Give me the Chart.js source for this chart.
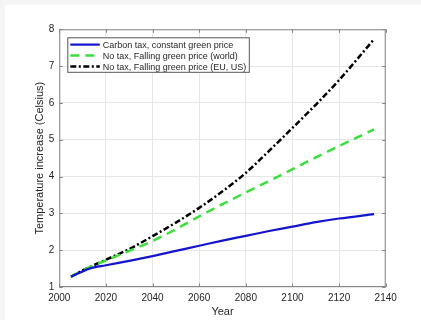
<!DOCTYPE html>
<html>
<head>
<meta charset="utf-8">
<script src="https://cdn.jsdelivr.net/npm/chart.js@4.4.1/dist/chart.umd.min.js"></script>
<style>
  html, body { margin: 0; padding: 0; background: #f5f5f5; }
  #wrap { position: absolute; left: 5px; top: 5px; width: 416px; height: 315px; background: #ffffff; }
  canvas { display: block; }
</style>
</head>
<body>
<div id="wrap"><canvas id="chart" width="416" height="315"></canvas></div>
<script>
// Simulated temperature paths (degrees Celsius above pre-industrial) by year
const carbonTaxYears = [2005, 2013, 2020, 2030, 2040, 2050, 2060, 2070, 2080, 2090, 2100, 2110, 2120, 2135];
const carbonTaxTemp  = [1.28, 1.50, 1.59, 1.71, 1.84, 1.98, 2.12, 2.26, 2.39, 2.52, 2.64, 2.76, 2.86, 2.98];

const worldYears = [2005, 2010, 2020, 2030, 2040, 2050, 2060, 2070, 2080, 2090, 2100, 2110, 2120, 2135];
const worldTemp  = [1.28, 1.45, 1.72, 1.98, 2.25, 2.57, 2.92, 3.25, 3.57, 3.88, 4.20, 4.52, 4.83, 5.28];

const euUsYears = [2005, 2010, 2020, 2030, 2040, 2050, 2060, 2070, 2080, 2090, 2100, 2110, 2120, 2135];
const euUsTemp  = [1.28, 1.45, 1.74, 2.03, 2.38, 2.75, 3.15, 3.60, 4.10, 4.70, 5.32, 5.95, 6.62, 7.73];

const seriesLabels = [
  'Carbon tax, constant green price',
  'No tax, Falling green price (world)',
  'No tax, Falling green price (EU, US)'
];

const xTickValues = [2000, 2020, 2040, 2060, 2080, 2100, 2120, 2140];
const yTickValues = [1, 2, 3, 4, 5, 6, 7, 8];

const toPoints = (xs, ys) => xs.map((x, i) => ({ x: x, y: ys[i] }));

const FONT = 'Liberation Sans, Arial, Helvetica, sans-serif';
const TEXT = '#262626';
const AXIS = '#858585';

// Inward tick marks on all four sides plus the boxed legend in the upper left
const framePlugin = {
  id: 'frame',
  afterDatasetsDraw(chart) {
    const { ctx, chartArea: a, scales } = chart;
    ctx.save();
    ctx.strokeStyle = AXIS;
    ctx.lineWidth = 1;
    ctx.strokeRect(a.left + 0.5, a.top + 0.5, a.right - a.left - 1, a.bottom - a.top - 1);
    const len = 3.5;
    ctx.beginPath();
    xTickValues.forEach(v => {
      const x = Math.round(scales.x.getPixelForValue(v)) + 0.5;
      ctx.moveTo(x, a.bottom); ctx.lineTo(x, a.bottom - len);
      ctx.moveTo(x, a.top); ctx.lineTo(x, a.top + len);
    });
    yTickValues.forEach(v => {
      const y = Math.round(scales.y.getPixelForValue(v)) + 0.5;
      ctx.moveTo(a.left, y); ctx.lineTo(a.left + len, y);
      ctx.moveTo(a.right, y); ctx.lineTo(a.right - len, y);
    });
    ctx.stroke();

    // legend box
    const bx = a.left + 8.5, by = a.top + 8.5, bw = 181.5, bh = 34.5;
    ctx.fillStyle = '#ffffff';
    ctx.fillRect(bx, by, bw, bh);
    ctx.strokeStyle = '#555555';
    ctx.strokeRect(bx, by, bw, bh);
    ctx.font = '9px ' + FONT;
    ctx.textBaseline = 'middle';
    ctx.textAlign = 'left';
    chart.data.datasets.forEach((ds, i) => {
      const y = by + 6.8 + i * 11;
      ctx.beginPath();
      ctx.strokeStyle = ds.borderColor;
      ctx.lineWidth = ds.borderWidth;
      ctx.setLineDash(ds.borderDash || []);
      ctx.moveTo(bx + 2.5, y);
      ctx.lineTo(bx + 32, y);
      ctx.stroke();
      ctx.setLineDash([]);
      ctx.fillStyle = TEXT;
      ctx.fillText(ds.label, bx + 35, y + 0.5);
    });
    ctx.restore();
  }
};

new Chart(document.getElementById('chart'), {
  type: 'line',
  data: {
    datasets: [
      {
        label: seriesLabels[0],
        data: toPoints(carbonTaxYears, carbonTaxTemp),
        borderColor: '#1414cf',
        borderWidth: 2.2,
        pointRadius: 0,
        cubicInterpolationMode: 'monotone',
        fill: false
      },
      {
        label: seriesLabels[1],
        data: toPoints(worldYears, worldTemp),
        borderColor: '#3ae03a',
        borderWidth: 2.5,
        borderDash: [9, 6],
        pointRadius: 0,
        cubicInterpolationMode: 'monotone',
        fill: false
      },
      {
        label: seriesLabels[2],
        data: toPoints(euUsYears, euUsTemp),
        borderColor: '#000000',
        borderWidth: 2.5,
        borderDash: [6, 2.5, 2, 2.5],
        pointRadius: 0,
        cubicInterpolationMode: 'monotone',
        fill: false
      }
    ]
  },
  options: {
    responsive: false,
    animation: false,
    devicePixelRatio: 1,
    layout: { padding: { top: 24.3, right: 35.3, left: 0, bottom: 0 } },
    plugins: { legend: { display: false }, tooltip: { enabled: false } },
    scales: {
      x: {
        type: 'linear',
        min: 2000,
        max: 2140,
        afterBuildTicks(scale) { scale.ticks = xTickValues.map(v => ({ value: v })); },
        afterFit(scale) { scale.height = 33; },
        border: { display: false },
        grid: { color: '#e6e6e6', drawTicks: false, lineWidth: 1 },
        ticks: { color: TEXT, font: { family: FONT, size: 10 }, padding: 5, maxRotation: 0,
                 callback: v => String(v) },
        title: { display: true, text: 'Year', color: TEXT, font: { family: FONT, size: 11 },
                 padding: { top: 0, bottom: 1.7 } }
      },
      y: {
        type: 'linear',
        min: 1,
        max: 8,
        afterBuildTicks(scale) { scale.ticks = yTickValues.map(v => ({ value: v })); },
        afterFit(scale) { scale.width = 54.3; },
        border: { display: false },
        grid: { color: '#e6e6e6', drawTicks: false, lineWidth: 1 },
        ticks: { color: TEXT, font: { family: FONT, size: 10 }, padding: 5,
                 callback: v => String(v) },
        title: { display: true, text: 'Temperature increase (Celsius)', color: TEXT,
                 font: { family: FONT, size: 11 }, padding: { top: 28.4, bottom: 0 } }
      }
    }
  },
  plugins: [framePlugin]
});
</script>
</body>
</html>
